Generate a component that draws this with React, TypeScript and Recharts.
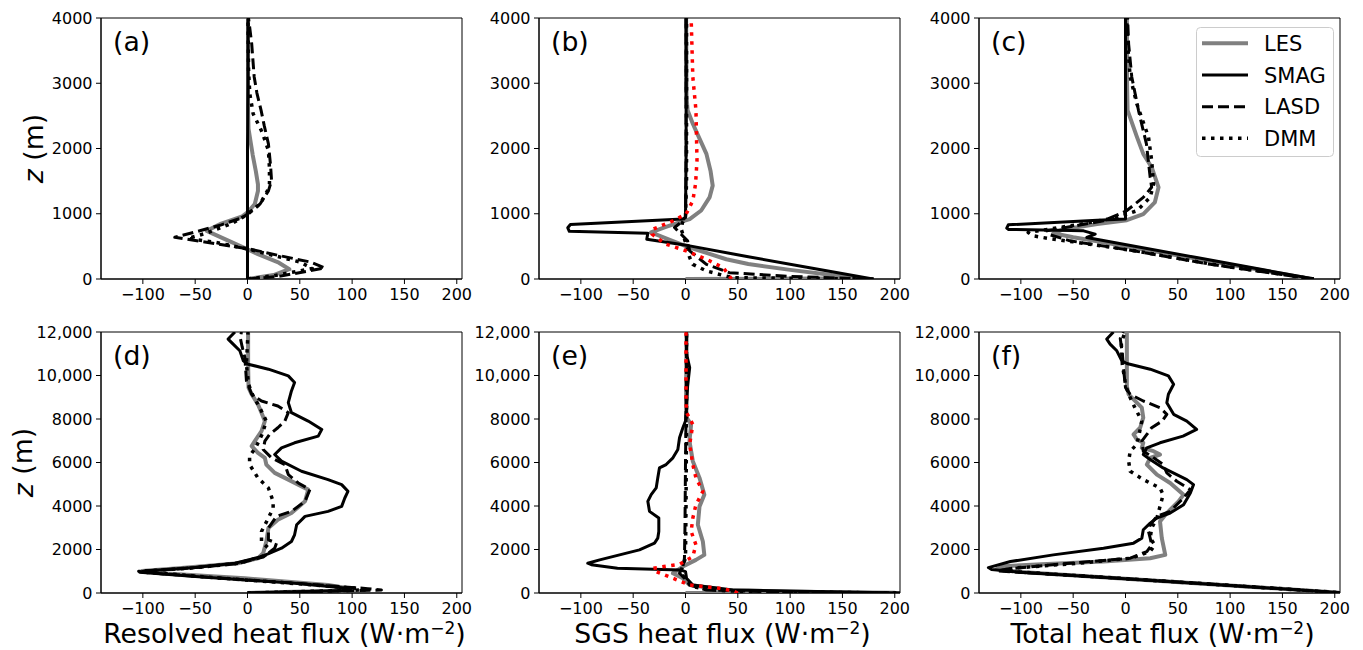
import React from 'react';
import { ScatterChart, Scatter, XAxis, YAxis, ReferenceArea, Legend } from 'recharts';

type P = [number, number]; // [heat flux (W m-2), height z (m)]

// ---------- axes ----------
const xTicks = [-100, -50, 0, 50, 100, 150, 200];
const xDomain: [number, number] = [-140, 205];
const yTicksTop = [0, 1000, 2000, 3000, 4000];
const yTickLabelsTop = ['0', '1000', '2000', '3000', '4000'];
const yTicksBottom = [0, 2000, 4000, 6000, 8000, 10000, 12000];
const yTickLabelsBottom = ['0', '2000', '4000', '6000', '8000', '10,000', '12,000'];
const panelLetters = ['(a)', '(b)', '(c)', '(d)', '(e)', '(f)'];
const xAxisTitles = ['Resolved heat flux', 'SGS heat flux', 'Total heat flux'];
const legendNames = ['LES', 'SMAG', 'LASD', 'DMM'];

// ---------- (a) resolved, shallow case ----------
const aLES: P[] = [[0,0],[25,60],[40,150],[30,250],[10,380],[0,456],[-20,600],[-39,738],[-25,850],[-5,960],[0,1020],[7,1150],[10,1350],[10,1450],[8,1650],[5,1900],[3,2100],[1,2300],[0.5,2600],[0.5,3000],[0.5,3500],[0.5,4000]];
const aSMAG: P[] = [[0,0],[0,1000],[0,2000],[0.5,3000],[0.5,4000]];
const aLASD: P[] = [[0,0],[30,40],[74,170],[60,260],[30,360],[5,450],[-30,540],[-69.5,640],[-50,720],[-25,830],[-5,940],[0,995],[12,1150],[20,1350],[23,1508],[22,1750],[20,2072],[16,2350],[13,2585],[9,2850],[6.4,3097],[4,3610],[2,3870],[1,4000]];
const aDMM: P[] = [[0,0],[25,50],[62,160],[50,260],[20,380],[0,460],[-30,560],[-57,620],[-40,700],[-15,850],[0,990],[12,1150],[19,1350],[21,1456],[21,1700],[20,1970],[14,2250],[5.4,2533],[2.2,2840],[1,3200],[0.5,4000]];

// ---------- (b) SGS, shallow case ----------
const bLES: P[] = [[0,0],[170,12],[140,60],[100,140],[60,230],[39,303],[20,400],[4,482],[-15,600],[-33,713],[-20,790],[-6,867],[4,918],[15,1050],[23,1250],[26,1431],[24,1650],[20,1918],[12,2200],[7,2380],[2,2585],[1,2800],[0.6,4000]];
const bSMAG: P[] = [[179,0],[120,170],[60,340],[4,508],[-37,610],[-36,700],[-111,730],[-112.5,785],[-110,835],[-2.5,918],[0,944],[0.6,2000],[0.6,4000]];
const bLASD: P[] = [[173,0],[100,40],[42,97],[20,225],[4,430],[2,585],[-5,700],[-10.5,790],[-5,860],[0,950],[0.5,1500],[0.6,4000]];
const bDMM: P[] = [[180,0],[45,20],[35,60],[20,123],[7,225],[4,328],[0.6,533],[-4,760],[-3,860],[0,944],[1,1500],[1,4000]];
const bRED: P[] = [[44,0],[40,90],[36,174],[20,303],[0.6,431],[-18.5,533],[-32,687],[-31,764],[-12,892],[0.6,995],[7,1200],[9.6,1456],[11,1815],[10,2585],[7,3097],[5.4,4000]];

// ---------- (c) total, shallow case ----------
const cLES: P[] = [[178,0],[110,190],[40,390],[-20,560],[-50,640],[-69,700],[-60,760],[-27,841],[1.3,902],[17,995],[28,1174],[31.6,1405],[25,1713],[17,1918],[11,2174],[2,2585],[1.5,3000],[1.3,4000]];
const cSMAG: P[] = [[180,0],[68,328],[-37,636],[-29,687],[-40,738],[-112,760],[-113.5,780],[-112,830],[-27,900],[0,918],[0,1500],[0,4000]];
const cLASD: P[] = [[180,0],[81,225],[8.7,430],[-53,585],[-74,687],[-75,738],[-21,892],[1,1046],[17,1251],[25,1405],[23.6,1559],[20,2072],[12.4,2585],[6,3097],[3,3600],[2,4000]];
const cDMM: P[] = [[180,0],[83,225],[10,430],[-50,570],[-75,625],[-88,661],[-93,713],[-43,841],[-8,944],[10.8,1046],[23.6,1251],[26.8,1456],[25,1815],[22,2174],[10.8,2687],[4.5,3097],[2,3600],[1,4000]];

// ---------- (d) resolved, deep case ----------
const dLES: P[] = [[0,0],[94,120],[96,215],[77,369],[-2.5,677],[-82,907],[-101,1015],[-66,1138],[-9,1369],[10,1600],[15,1830],[18,2368],[20,2984],[29,3368],[42,3676],[55,4214],[58,4752],[39,5214],[26,5521],[18,5906],[16.6,6214],[10,6444],[4,6752],[7,6983],[13.4,7444],[16.6,7905],[10,8674],[4,9136],[1,9443],[0.6,10500],[0.6,12000]];
const dSMAG: P[] = [[0,0],[99,120],[96,215],[45,446],[-50,754],[-103,954],[-98,1015],[-50,1169],[-12,1369],[13.4,1676],[32.5,2061],[42,2368],[45,2676],[47,3137],[55,3522],[77,3752],[90,3983],[93,4368],[96,4675],[90,4983],[77,5214],[51.6,5598],[32.5,6060],[26,6367],[32.5,6675],[45,6906],[67.6,7213],[71,7521],[58,7905],[42,8290],[39,8751],[42,9290],[45,9674],[39,9982],[20,10290],[0.6,10520],[-4,10674],[-7.3,11135],[-13.7,11443],[-18.5,11675],[-12,12000]];
const dLASD: P[] = [[0,0],[128,138],[115,200],[60,400],[-30,700],[-100,950],[-104,1000],[-60,1130],[-10,1350],[15,1650],[26,2061],[27.7,2292],[20,2445],[20,2984],[27.7,3522],[42,3752],[55,4214],[59.6,4752],[48.5,5060],[39,5445],[35.7,5906],[23,6214],[15,6598],[16.6,6983],[21,7290],[29,7598],[35.7,7905],[39,8290],[29,8597],[13.4,8828],[4,9136],[-1,9751],[-2.5,10828],[-5,11300],[-7,11750],[-5.7,12000]];
const dDMM: P[] = [[0,0],[112,140],[105,210],[55,400],[-30,700],[-97,960],[-100,1010],[-55,1140],[-8,1370],[15,1700],[23,1907],[20,2061],[13.4,2368],[13.4,2830],[20,3445],[24.5,3906],[24.5,4214],[20,4829],[10,5290],[2,5906],[2,6290],[8,6700],[14,7300],[18,7900],[12,8500],[5,9100],[1,9600],[-1,10500],[0,11500],[0.5,12000]];

// ---------- (e) SGS, deep case ----------
const eLES: P[] = [[0,0],[200,15],[100,60],[39,138],[4,369],[-2.5,677],[-12,907],[-2.5,1215],[10,1523],[18,1753],[16.6,2368],[11.8,3137],[13.4,3983],[18,4521],[13.4,5291],[7,6060],[3.8,6983],[5.4,7751],[1,8060],[0.6,9000],[1,12000]];
const eSMAG: P[] = [[210,0],[45,138],[7,369],[1,677],[0,984],[-5,1061],[-65,1138],[-90,1300],[-93.4,1369],[-82,1523],[-63,1753],[-44,1984],[-29.6,2292],[-26.5,2522],[-25.5,2830],[-25.5,3445],[-34.4,3753],[-36,4214],[-32.8,4522],[-28,4829],[-26.5,5291],[-24.9,5752],[-18.5,5906],[-12,6214],[-7.3,6598],[-5.7,7137],[-2.5,7598],[0,7905],[1,8500],[2,9500],[4,10366],[1,11000],[1,12000]];
const eLASD: P[] = [[210,0],[80,60],[20,138],[4,369],[-1,677],[-5.7,907],[-2.5,1215],[-1,1600],[-0.5,3000],[0,6000],[0.5,8000],[1,10000],[1,12000]];
const eDMM: P[] = [[210,0],[60,60],[25,138],[6,300],[0,677],[-5,900],[-3,1200],[0,1600],[0.5,4000],[1,8000],[1,12000]];
const eRED: P[] = [[50,0],[45,100],[32.5,215],[4,369],[-12,677],[-28,984],[-31,1138],[-5.7,1323],[7,1676],[10,2215],[5.4,2830],[7,3445],[10,4060],[16.6,4675],[10,5291],[7,5906],[4,6829],[7,7751],[1,8300],[0.5,9000],[0.5,12000]];

// ---------- (f) total, deep case ----------
const fLES: P[] = [[210,0],[100,350],[0,660],[-100,960],[-123,1100],[-117,1230],[-80,1323],[-21,1446],[23.6,1600],[38,1753],[34.7,2522],[33,3291],[39.5,3676],[50.7,4214],[55.5,4521],[42.7,5060],[30,5445],[20.4,5906],[23.6,6214],[33,6367],[26.8,6521],[15.6,6675],[17,6906],[10.8,7060],[7.7,7290],[14,7598],[17,8060],[15.6,8521],[10.8,8751],[3,9136],[1.3,9500],[1.3,12000]];
const fSMAG: P[] = [[210,0],[100,350],[0,660],[-100,950],[-128,1080],[-131,1169],[-110,1446],[-69,1753],[-21,2061],[7.7,2292],[15.6,2522],[17,2907],[23.6,3214],[30,3445],[42.7,3676],[55.5,4060],[62,4598],[65,4983],[58.6,5214],[49,5445],[36,5752],[23.6,6137],[17,6367],[20.4,6675],[33,6906],[55,7213],[68,7521],[58.6,7905],[46,8213],[39.5,8751],[41,9136],[46,9597],[41,9982],[23.6,10290],[1.3,10551],[-3.5,10674],[-8.3,11135],[-14.7,11443],[-17.9,11675],[-11.5,12000]];
const fLASD: P[] = [[210,0],[100,350],[0,660],[-100,950],[-123,1015],[-113,1107],[-53,1369],[4.5,1600],[20.4,1907],[25,2215],[23.6,2522],[22,2830],[23.6,3137],[30,3522],[42.7,3752],[55.5,4368],[62,4752],[49,5137],[39.5,5521],[36,5906],[26.8,6214],[17,6521],[15.6,6983],[20.4,7290],[25,7598],[35,7905],[39.5,8213],[33,8521],[17,8828],[4.5,9136],[0,9443],[-2,10366],[-3,11000],[-5,11700],[-2,12000]];
const fDMM: P[] = [[210,0],[100,350],[0,660],[-100,960],[-118,1040],[-105,1150],[-45,1369],[5,1600],[23.6,1907],[28,2215],[23.6,2522],[25,2984],[30,3445],[33,3983],[36,4521],[33,4829],[17,5214],[4.5,5598],[3,6060],[4.5,6521],[10.8,6829],[13,7290],[15.6,7905],[9,8521],[3,9136],[0,9600],[-3,10500],[-4,11500],[-0.5,12000]];

// ---------- styles ----------
const FONT = 'DejaVu Sans';
type Style = { stroke: string; strokeWidth: number; strokeDasharray?: string };
const STY: Record<string, Style> = {
  LES: { stroke: '#808080', strokeWidth: 4 },
  SMAG: { stroke: '#000000', strokeWidth: 3 },
  LASD: { stroke: '#000000', strokeWidth: 3, strokeDasharray: '11 5' },
  DMM: { stroke: '#000000', strokeWidth: 3.5, strokeDasharray: '3.5 5.5' },
  RED: { stroke: '#ff0000', strokeWidth: 3.5, strokeDasharray: '3.5 5.5' },
};

const toPts = (arr: P[]) => arr.map(([x, z]) => ({ x, z }));
const fmtX = (v: number) => (v < 0 ? '\u2212' + Math.abs(v) : String(v));

const PLOT_W = 361;
const PLOT_H = 261;
const Y_AXIS_W = 100;
const MARGIN_TOP = 10;

type Series = { key: string; data: P[] };

const NoShape = () => <g />;

function LegendBox() {
  const rows = [16.3, 48, 79.7, 111.3];
  return (
    <svg width={138} height={130} style={{ display: 'block' }}>
      <rect x={0.5} y={0.5} width={137} height={129} rx={4} ry={4} fill="#ffffff" fillOpacity={0.8} stroke="#cccccc" strokeWidth={1} />
      {legendNames.map((n, i) => (
        <g key={n}>
          <line x1={6} x2={52} y1={rows[i]} y2={rows[i]} stroke={STY[n].stroke} strokeWidth={STY[n].strokeWidth} strokeDasharray={STY[n].strokeDasharray} />
          <text x={68} y={rows[i] + 7.6} fontSize={21} fontFamily={FONT} fill="#000">{n}</text>
        </g>
      ))}
    </svg>
  );
}

function Panel(props: {
  plotLeft: number; plotTop: number; deep: boolean; letter: string; series: Series[];
  xTitle?: string; yTitle?: boolean; legend?: boolean;
}) {
  const { plotLeft, plotTop, deep, letter, series, xTitle, yTitle, legend } = props;
  const xAxisH = deep ? 57 : 40;
  const chartH = MARGIN_TOP + PLOT_H + xAxisH;
  const chartW = Y_AXIS_W + PLOT_W + 12;
  const yMax = deep ? 12000 : 4000;
  const yTicks = deep ? yTicksBottom : yTicksTop;
  const yLabels = deep ? yTickLabelsBottom : yTickLabelsTop;
  const fmtY = (v: number) => { const i = yTicks.indexOf(v); return i >= 0 ? yLabels[i] : String(v); };
  const tickStyle = { fontSize: 16, fill: '#000', fontFamily: FONT };
  const yLabelX = deep ? 21.5 : 32;
  const cy = MARGIN_TOP + PLOT_H / 2;

  return (
    <div style={{ position: 'absolute', left: plotLeft - Y_AXIS_W, top: plotTop - MARGIN_TOP }}>
      <ScatterChart width={chartW} height={chartH} margin={{ top: MARGIN_TOP, right: 12, bottom: 0, left: 0 }}>
        <XAxis
          type="number" dataKey="x" domain={xDomain} allowDataOverflow ticks={xTicks} interval={0}
          tickFormatter={fmtX} tick={tickStyle} tickSize={5} tickMargin={5}
          tickLine={{ stroke: '#000', strokeWidth: 1 }} axisLine={{ stroke: '#000', strokeWidth: 1 }}
          height={xAxisH}
          label={xTitle ? {
            content: () => (
              <text x={Y_AXIS_W + PLOT_W / 2 + 3} y={MARGIN_TOP + PLOT_H + 50} textAnchor="middle" fontSize={26.7} fontFamily={FONT} fill="#000">
                {xTitle + ' (W\u00B7m'}
                <tspan fontSize={17} dy={-9}>{'\u22122'}</tspan>
                <tspan dy={9}>{')'}</tspan>
              </text>
            ),
          } : undefined}
        />
        <YAxis
          type="number" dataKey="z" domain={[0, yMax]} allowDataOverflow ticks={yTicks} interval={0}
          tickFormatter={fmtY} tick={tickStyle} tickSize={5} tickMargin={3.5}
          tickLine={{ stroke: '#000', strokeWidth: 1 }} axisLine={{ stroke: '#000', strokeWidth: 1 }}
          width={Y_AXIS_W}
          label={yTitle ? {
            content: () => (
              <text x={yLabelX} y={cy} transform={`rotate(-90, ${yLabelX}, ${cy})`} textAnchor="middle" dominantBaseline="central" fontSize={26.7} fontFamily={FONT} fill="#000">
                <tspan fontStyle="italic">z</tspan>{' (m)'}
              </text>
            ),
          } : undefined}
        />
        <ReferenceArea
          x1={xDomain[0]} x2={xDomain[1]} y1={0} y2={yMax}
          fill="none" fillOpacity={0} stroke="#000" strokeWidth={1}
          label={{
            content: () => (
              <text x={Y_AXIS_W + 12} y={MARGIN_TOP + 33} fontSize={26.7} fontFamily={FONT} fill="#000">{letter}</text>
            ),
          }}
        />
        {series.map((s, i) => {
          const st = STY[s.key];
          return (
            <Scatter
              key={s.key + i}
              name={s.key}
              data={toPts(s.data)}
              shape={NoShape}
              legendType="none"
              isAnimationActive={false}
              line={{ stroke: st.stroke, strokeWidth: st.strokeWidth, strokeDasharray: st.strokeDasharray, strokeLinejoin: 'round', fill: 'none' }}
              lineType="joint"
            />
          );
        })}
        {legend ? (
          <Legend
            layout="vertical" align="center" verticalAlign="middle"
            wrapperStyle={{ position: 'absolute', left: 317, top: 19, width: 138, height: 130 }}
            content={() => <LegendBox />}
          />
        ) : null}
      </ScatterChart>
    </div>
  );
}

const topTop = 17.5;
const botTop = 332;
const lefts = [101, 539, 979];

export default function App() {
  return (
    <div style={{ position: 'absolute', left: 0, top: 0, width: 1363, height: 650, background: '#fff', overflow: 'hidden' }}>
      <Panel plotLeft={lefts[0]} plotTop={topTop} deep={false} letter={panelLetters[0]} yTitle
        series={[{ key: 'LES', data: aLES }, { key: 'SMAG', data: aSMAG }, { key: 'LASD', data: aLASD }, { key: 'DMM', data: aDMM }]} />
      <Panel plotLeft={lefts[1]} plotTop={topTop} deep={false} letter={panelLetters[1]}
        series={[{ key: 'LES', data: bLES }, { key: 'SMAG', data: bSMAG }, { key: 'LASD', data: bLASD }, { key: 'DMM', data: bDMM }, { key: 'RED', data: bRED }]} />
      <Panel plotLeft={lefts[2]} plotTop={topTop} deep={false} letter={panelLetters[2]} legend
        series={[{ key: 'LES', data: cLES }, { key: 'SMAG', data: cSMAG }, { key: 'LASD', data: cLASD }, { key: 'DMM', data: cDMM }]} />
      <Panel plotLeft={lefts[0]} plotTop={botTop} deep letter={panelLetters[3]} yTitle xTitle={xAxisTitles[0]}
        series={[{ key: 'LES', data: dLES }, { key: 'SMAG', data: dSMAG }, { key: 'LASD', data: dLASD }, { key: 'DMM', data: dDMM }]} />
      <Panel plotLeft={lefts[1]} plotTop={botTop} deep letter={panelLetters[4]} xTitle={xAxisTitles[1]}
        series={[{ key: 'LES', data: eLES }, { key: 'SMAG', data: eSMAG }, { key: 'LASD', data: eLASD }, { key: 'DMM', data: eDMM }, { key: 'RED', data: eRED }]} />
      <Panel plotLeft={lefts[2]} plotTop={botTop} deep letter={panelLetters[5]} xTitle={xAxisTitles[2]}
        series={[{ key: 'LES', data: fLES }, { key: 'SMAG', data: fSMAG }, { key: 'LASD', data: fLASD }, { key: 'DMM', data: fDMM }]} />
    </div>
  );
}
